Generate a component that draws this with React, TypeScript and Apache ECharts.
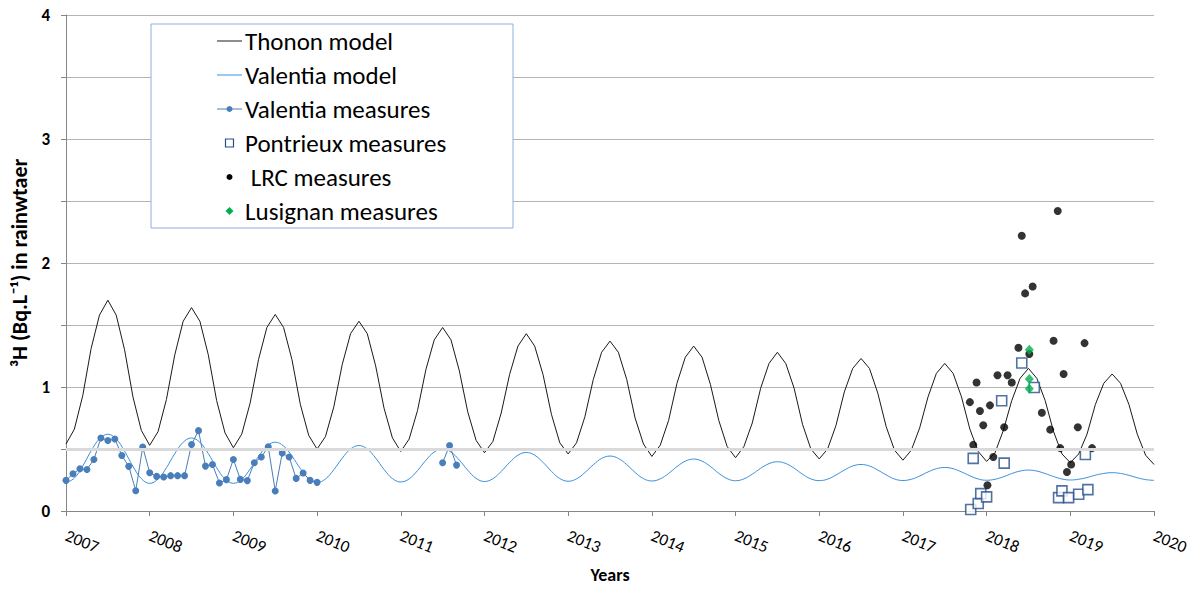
import React, { useEffect, useRef } from "react";
import * as echarts from "echarts";

const FONT = "Carlito, Lato, 'Open Sans', sans-serif";

// x-axis (years)
const X_MIN = 2007;
const X_MAX = 2020;
const MODEL_STEPS_PER_YEAR = 10; // model curves sampled every 0.1 year
const MONTHS_PER_YEAR = 12; // measures sampled monthly

const SERIES_NAMES = [
  "Thonon model",
  "Valentia model",
  "Valentia measures",
  "Pontrieux measures",
  " LRC measures",
  "Lusignan measures",
];

const COLORS = {
  thonon: "#1a1a1a",
  valModel: "#3a90dc",
  valMeas: "#4a7ebb",
  pontrieux: "#264f8c",
  lrc: "#000000",
  lusignan: "#00b050",
};

// Thonon model, 10 samples per year from 2007.0 to 2020.0
const THONON_MODEL = [
  0.54, 0.66, 0.93, 1.31, 1.58, 1.70, 1.58, 1.30, 0.92, 0.65,
  0.53, 0.64, 0.90, 1.26, 1.53, 1.64, 1.53, 1.26, 0.89, 0.63,
  0.51, 0.62, 0.87, 1.22, 1.48, 1.585, 1.48, 1.22, 0.86, 0.61,
  0.50, 0.60, 0.84, 1.18, 1.43, 1.53, 1.43, 1.17, 0.83, 0.59,
  0.48, 0.58, 0.81, 1.14, 1.38, 1.48, 1.38, 1.13, 0.80, 0.57,
  0.47, 0.56, 0.79, 1.10, 1.33, 1.43, 1.33, 1.10, 0.78, 0.55,
  0.46, 0.55, 0.76, 1.06, 1.28, 1.37, 1.28, 1.06, 0.75, 0.54,
  0.44, 0.53, 0.73, 1.03, 1.24, 1.33, 1.24, 1.02, 0.73, 0.52,
  0.43, 0.52, 0.71, 0.99, 1.19, 1.28, 1.19, 0.99, 0.70, 0.50,
  0.42, 0.50, 0.69, 0.96, 1.15, 1.23, 1.15, 0.95, 0.68, 0.49,
  0.41, 0.49, 0.67, 0.92, 1.11, 1.19, 1.11, 0.92, 0.66, 0.48,
  0.40, 0.47, 0.65, 0.89, 1.07, 1.15, 1.07, 0.89, 0.64, 0.46,
  0.39, 0.46, 0.62, 0.86, 1.03, 1.105, 1.03, 0.86, 0.62, 0.45,
  0.375,
];

// Valentia model, 10 samples per year from 2007.0 to 2020.0
const VALENTIA_MODEL = [
  0.228, 0.265, 0.363, 0.484, 0.582, 0.619, 0.581, 0.482, 0.36, 0.261,
  0.223, 0.258, 0.349, 0.463, 0.554, 0.589, 0.554, 0.463, 0.349, 0.258,
  0.223, 0.255, 0.338, 0.44, 0.523, 0.555, 0.524, 0.443, 0.342, 0.261,
  0.23, 0.258, 0.333, 0.425, 0.5, 0.528, 0.5, 0.427, 0.335, 0.262,
  0.234, 0.259, 0.326, 0.409, 0.476, 0.501, 0.476, 0.41, 0.329, 0.263,
  0.238, 0.26, 0.319, 0.391, 0.45, 0.472, 0.45, 0.392, 0.32, 0.262,
  0.24, 0.259, 0.31, 0.373, 0.424, 0.443, 0.424, 0.374, 0.311, 0.261,
  0.242, 0.259, 0.303, 0.358, 0.402, 0.419, 0.402, 0.359, 0.304, 0.261,
  0.244, 0.259, 0.297, 0.344, 0.382, 0.397, 0.383, 0.345, 0.297, 0.259,
  0.245, 0.257, 0.29, 0.33, 0.363, 0.375, 0.363, 0.33, 0.291, 0.258,
  0.246, 0.256, 0.282, 0.315, 0.341, 0.351, 0.341, 0.315, 0.284, 0.258,
  0.248, 0.256, 0.276, 0.302, 0.322, 0.33, 0.322, 0.302, 0.278, 0.258,
  0.25, 0.256, 0.27, 0.289, 0.303, 0.309, 0.303, 0.288, 0.268, 0.253,
  0.247,
];

// Valentia measures, monthly from Jan 2007 (null = no measure)
const VALENTIA_MEASURES: (number | null)[] = [
  0.247, 0.3, 0.34, 0.335, 0.415, 0.589, 0.568, 0.581, 0.448, 0.36, 0.164, 0.515,
  0.309, 0.279, 0.274, 0.285, 0.285, 0.285, 0.536, 0.648, 0.362, 0.375, 0.226, 0.253,
  0.416, 0.255, 0.245, 0.389, 0.435, 0.517, 0.162, 0.467, 0.435, 0.263, 0.306, 0.247,
  0.231, null, null, null, null, null, null, null, null, null, null, null,
  null, null, null, null, null, null, 0.389, 0.528, 0.37,
];

// [decimal year, value]
const PONTRIEUX: [number, number][] = [
  [2017.81, 0.012], [2017.9, 0.06], [2017.93, 0.14], [2018.0, 0.114],
  [2017.84, 0.424], [2018.18, 0.889], [2018.21, 0.386], [2018.42, 1.193],
  [2018.57, 0.996], [2018.86, 0.108], [2018.9, 0.162], [2018.98, 0.108],
  [2019.1, 0.135], [2019.21, 0.172], [2019.18, 0.456],
];

const LRC: [number, number][] = [
  [2018.85, 2.42], [2018.42, 2.22], [2018.55, 1.81], [2018.46, 1.755],
  [2018.38, 1.317], [2018.51, 1.266], [2018.8, 1.373], [2019.17, 1.354],
  [2017.88, 1.036], [2018.13, 1.095], [2018.25, 1.095], [2018.3, 1.036],
  [2018.92, 1.105], [2017.8, 0.878], [2017.92, 0.806], [2018.04, 0.852],
  [2017.96, 0.691], [2018.21, 0.675], [2018.66, 0.793], [2018.76, 0.656],
  [2019.09, 0.675], [2017.84, 0.533], [2018.08, 0.435], [2018.88, 0.507],
  [2019.26, 0.507], [2019.01, 0.375], [2018.96, 0.314], [2018.01, 0.207],
];

const LUSIGNAN: [number, number][] = [
  [2018.51, 1.3], [2018.51, 1.065], [2018.51, 0.985],
];

const REFERENCE_LEVEL = 0.5;

// legend layout
const LEG_BOX = { x: 151, y: 24, width: 362, height: 204 };
const LEG_ROW0 = 41;
const LEG_ROW_STEP = 34;
const LEG_ICON_X0 = 217;
const LEG_ICON_X1 = 242;
const LEG_TEXT_X = 245;

function legendIcon(i: number, cy: number): any[] {
  const cx = (LEG_ICON_X0 + LEG_ICON_X1) / 2;
  const bar = (color: string) => ({
    type: "rect",
    shape: { x: LEG_ICON_X0, y: cy - 0.5, width: LEG_ICON_X1 - LEG_ICON_X0, height: 1 },
    style: { fill: color },
  });
  switch (i) {
    case 0:
      return [bar(COLORS.thonon)];
    case 1:
      return [bar(COLORS.valModel)];
    case 2:
      return [bar(COLORS.valMeas), { type: "circle", shape: { cx, cy, r: 3 }, style: { fill: COLORS.valMeas } }];
    case 3:
      return [
        {
          type: "rect",
          shape: { x: cx - 4, y: cy - 4, width: 8, height: 8 },
          style: { fill: "#fff", stroke: COLORS.pontrieux, lineWidth: 1.2 },
        },
      ];
    case 4:
      return [{ type: "circle", shape: { cx, cy, r: 3 }, style: { fill: COLORS.lrc } }];
    default:
      return [
        {
          type: "polygon",
          shape: { points: [[cx, cy - 4], [cx + 4, cy], [cx, cy + 4], [cx - 4, cy]] },
          style: { fill: COLORS.lusignan },
        },
      ];
  }
}

export default function App() {
  const ref = useRef<HTMLDivElement>(null);

  useEffect(() => {
    if (!ref.current) return;
    const chart = echarts.init(ref.current, undefined, { renderer: "svg" });

    const thononData = THONON_MODEL.map((v, i) => [X_MIN + i / MODEL_STEPS_PER_YEAR, v]);
    const valModelData = VALENTIA_MODEL.map((v, i) => [X_MIN + i / MODEL_STEPS_PER_YEAR, v]);
    const valMeasData = VALENTIA_MEASURES.map((v, i) => [
      X_MIN + i / MONTHS_PER_YEAR,
      v === null ? "-" : v,
    ]);

    const legendElements: any[] = [
      {
        type: "rect",
        z: 10,
        shape: { ...LEG_BOX },
        style: { fill: "#ffffff", stroke: "#8eb0dc", lineWidth: 1 },
      },
    ];
    SERIES_NAMES.forEach((name, i) => {
      const cy = LEG_ROW0 + i * LEG_ROW_STEP;
      legendIcon(i, cy).forEach((el) => legendElements.push({ ...el, z: 11 }));
      legendElements.push({
        type: "text",
        z: 11,
        x: LEG_TEXT_X,
        y: cy,
        style: {
          text: name,
          fontFamily: FONT,
          fontSize: 25,
          fill: "#000",
          align: "left",
          verticalAlign: "middle",
        },
      });
    });

    chart.setOption({
      animation: false,
      backgroundColor: "#ffffff",
      textStyle: { fontFamily: FONT },
      grid: { left: 66, right: 44, top: 15, bottom: 75.5, containLabel: false },
      graphic: { elements: legendElements },
      xAxis: {
        type: "value",
        min: X_MIN,
        max: X_MAX,
        interval: 1,
        name: "Years",
        nameLocation: "middle",
        nameGap: 55,
        nameTextStyle: { fontFamily: FONT, fontSize: 18, fontWeight: "bold", color: "#000" },
        axisLine: { show: true, lineStyle: { color: "#868686", width: 1 } },
        axisTick: { show: true, length: 5, lineStyle: { color: "#868686" } },
        splitLine: { show: false },
        axisLabel: {
          rotate: -22,
          margin: 24,
          fontSize: 17,
          color: "#000",
          fontFamily: FONT,
          align: "left",
          verticalAlign: "middle",
          showMinLabel: true,
          showMaxLabel: true,
          hideOverlap: false,
          formatter: (v: number) => String(v),
        },
      },
      yAxis: {
        type: "value",
        min: 0,
        max: 4,
        interval: 0.5,
        name: "³H (Bq.L⁻¹) in rainwtaer",
        nameLocation: "middle",
        nameGap: 35,
        nameRotate: 90,
        nameTextStyle: { fontFamily: FONT, fontSize: 22, fontWeight: "bold", color: "#000" },
        axisLine: { show: true, lineStyle: { color: "#868686", width: 1 } },
        axisTick: { show: true, length: 5, lineStyle: { color: "#868686" } },
        splitLine: { show: true, lineStyle: { color: "#b4b4b4", width: 1 } },
        axisLabel: {
          margin: 16,
          fontSize: 17,
          fontWeight: "bold",
          color: "#000",
          fontFamily: FONT,
          formatter: (v: number) => (Number.isInteger(v) ? String(v) : ""),
        },
      },
      series: [
        {
          type: "line",
          name: "__ref",
          data: [],
          z: 1,
          silent: true,
          markLine: {
            silent: true,
            symbol: "none",
            label: { show: false },
            lineStyle: { color: "#d9d9d9", width: 3, type: "solid" },
            data: [{ yAxis: REFERENCE_LEVEL }],
          },
        },
        {
          type: "line",
          name: SERIES_NAMES[0],
          data: thononData,
          showSymbol: false,
          symbol: "none",
          lineStyle: { color: COLORS.thonon, width: 1 },
          itemStyle: { color: COLORS.thonon },
          z: 2,
        },
        {
          type: "line",
          name: SERIES_NAMES[1],
          data: valModelData,
          showSymbol: false,
          symbol: "none",
          smooth: 0.4,
          lineStyle: { color: COLORS.valModel, width: 1 },
          itemStyle: { color: COLORS.valModel },
          z: 2,
        },
        {
          type: "line",
          name: SERIES_NAMES[2],
          data: valMeasData,
          connectNulls: false,
          symbol: "circle",
          symbolSize: 7,
          showSymbol: true,
          lineStyle: { color: COLORS.valMeas, width: 1 },
          itemStyle: { color: COLORS.valMeas },
          z: 3,
        },
        {
          type: "scatter",
          name: SERIES_NAMES[3],
          data: PONTRIEUX,
          symbol: "rect",
          symbolSize: 10,
          itemStyle: { color: "#ffffff", borderColor: COLORS.pontrieux, borderWidth: 1.6 },
          z: 4,
        },
        {
          type: "scatter",
          name: SERIES_NAMES[4],
          data: LRC,
          symbol: "circle",
          symbolSize: 8,
          itemStyle: { color: COLORS.lrc },
          z: 4,
        },
        {
          type: "scatter",
          name: SERIES_NAMES[5],
          data: LUSIGNAN,
          symbol: "diamond",
          symbolSize: [9, 10],
          itemStyle: { color: COLORS.lusignan },
          z: 5,
        },
      ],
    });

    return () => chart.dispose();
  }, []);

  return (
    <div
      ref={ref}
      style={{ position: "fixed", left: 0, top: 0, width: 1198, height: 589, background: "#fff" }}
    />
  );
}
